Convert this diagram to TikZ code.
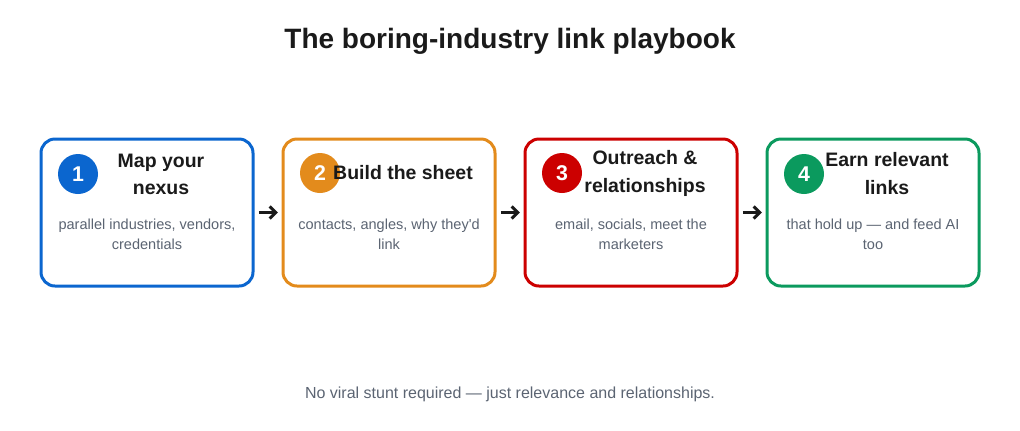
\documentclass[tikz,border=0pt]{standalone}
\usepackage{fontspec}
\setmainfont{Liberation Sans}
\usetikzlibrary{arrows.meta}
\definecolor{cblue}{HTML}{0B66CF}
\definecolor{corange}{HTML}{E38B1C}
\definecolor{cred}{HTML}{CC0000}
\definecolor{cgreen}{HTML}{0B9A5E}
\definecolor{ink}{HTML}{1A1A1A}
\definecolor{muted}{HTML}{5B6472}
\tikzset{
  card/.style={draw=#1, line width=2.25pt, rounded corners=10.5pt, minimum width=159pt, minimum height=110.25pt, fill=white, inner sep=0pt},
  badge/.style={circle, fill=#1, minimum size=30pt, inner sep=0pt, text=white, font=\fontsize{16}{18}\selectfont\bfseries},
  ctitle/.style={text=ink, font=\fontsize{14.6}{20.5}\selectfont\bfseries, align=center, inner sep=0pt},
  cdesc/.style={text=muted, font=\fontsize{10.9}{15}\selectfont, align=center, inner sep=0pt},
  arr/.style={draw=ink, line width=2.25pt, -{Straight Barb[length=4.5pt,width=9pt]}, shorten <=3.2pt, shorten >=2.8pt},
}
\begin{document}
\begin{tikzpicture}[x=0.75pt, y=-0.75pt]
\useasboundingbox (0,0) rectangle (1020,430);
\node[text=ink, font=\fontsize{21}{24}\selectfont\bfseries] (title) at (510,41) {The boring-industry link playbook};

\node[card=cblue] (b1) at (147,212.5) {};
\node[card=corange] (b2) at (389,212.5) {};
\node[card=cred] (b3) at (631,212.5) {};
\node[card=cgreen] (b4) at (873,212.5) {};

\node[badge=cblue] (n1) at (78,174) {1};
\node[badge=corange] (n2) at (320,173) {2};
\node[badge=cred] (n3) at (562,173) {3};
\node[badge=cgreen] (n4) at (804,174) {4};

\node[ctitle] (t1) at (161,174.5) {Map your\\nexus};
\node[ctitle] (t2) at (403,173) {Build the sheet};
\node[ctitle] (t3) at (645,173.5) {Outreach \&\\relationships};
\node[ctitle] (t4) at (887,173.5) {Earn relevant\\links};

\node[cdesc] (d1) at (147,234) {parallel industries, vendors,\\credentials};
\node[cdesc] (d2) at (389,234) {contacts, angles, why they\textquotesingle d\\link};
\node[cdesc] (d3) at (631,234) {email, socials, meet the\\marketers};
\node[cdesc] (d4) at (873,234) {that hold up — and feed AI\\too};

\draw[arr] (b1) -- (b2);
\draw[arr] (b2) -- (b3);
\draw[arr] (b3) -- (b4);

\node[text=muted, font=\fontsize{12}{14}\selectfont] (foot) at (510,394.5) {No viral stunt required — just relevance and relationships.};
\end{tikzpicture}
\end{document}
